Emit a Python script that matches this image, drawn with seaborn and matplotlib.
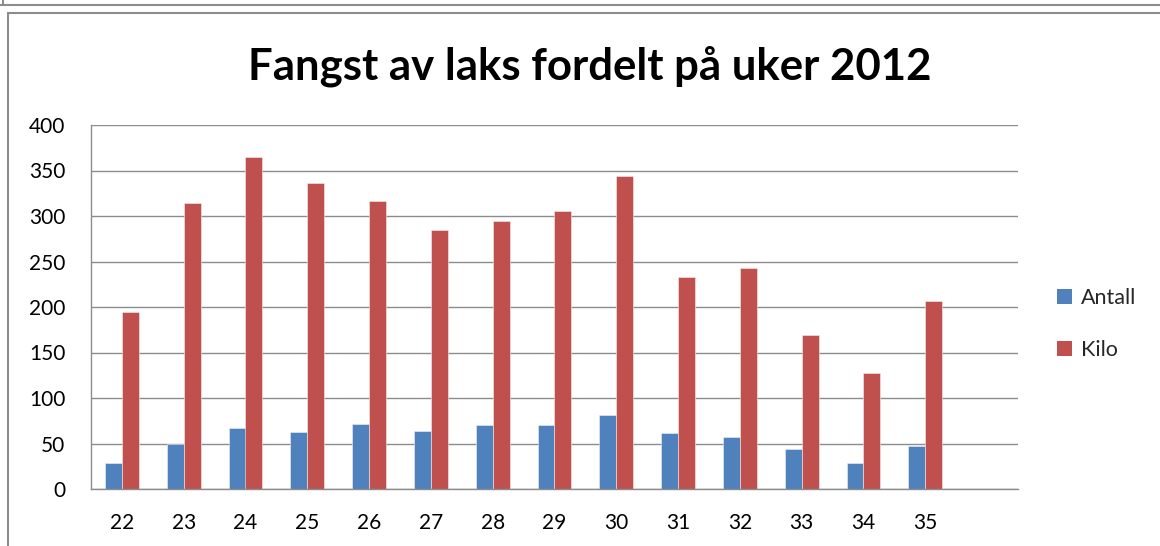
import numpy as np
import pandas as pd
import matplotlib
matplotlib.use("Agg")
import matplotlib.pyplot as plt
from matplotlib.patches import Rectangle
from matplotlib.lines import Line2D
import seaborn as sns

weeks = ["22", "23", "24", "25", "26", "27", "28", "29", "30", "31", "32", "33", "34", "35"]
antall = [29, 50, 67, 63, 71, 64, 70, 70, 81, 61, 57, 44, 29, 47]
kilo = [195, 314, 365, 336, 316, 285, 295, 306, 344, 233, 243, 169, 128, 207]
series_names = ["Antall", "Kilo"]
colors = ["#4F81BD", "#C0504D"]
title = "Fangst av laks fordelt på uker 2012"

df = pd.DataFrame({
    "Uke": weeks * 2,
    "Serie": [series_names[0]] * len(weeks) + [series_names[1]] * len(weeks),
    "Verdi": antall + kilo,
})

sns.set_theme(style="white")
plt.rcParams['font.family'] = ['Lato', 'DejaVu Sans']

W, H = 1160, 546
fig = plt.figure(figsize=(W / 100, H / 100), dpi=100)
ax = fig.add_axes([91 / W, 1 - 489 / H, (1018 - 91) / W, (489 - 125) / H])

sns.barplot(data=df, x="Uke", y="Verdi", hue="Serie", order=weeks,
            hue_order=series_names, palette=colors, width=0.55,
            ax=ax, legend=False, saturation=1, edgecolor="#f0f0f0", linewidth=0.4)

ax.set_xlim(-0.5, len(weeks) + 0.5)
ax.set_ylim(0, 400)
ax.set_yticks(np.arange(0, 401, 50))
ax.yaxis.grid(True, color="#8c8c8c", linewidth=1)
ax.set_axisbelow(True)
ax.set_xlabel("")
ax.set_ylabel("")
for s in ["top", "right"]:
    ax.spines[s].set_visible(False)
for s in ["left", "bottom"]:
    ax.spines[s].set_color("#8c8c8c")
    ax.spines[s].set_linewidth(1)
ax.tick_params(axis="both", length=0, labelsize=15, colors="#000000")
ax.tick_params(axis="x", pad=17)
ax.tick_params(axis="y", pad=18.5)

fig.text(590 / W, 1 - 66 / H, title, ha="center", va="center",
         fontsize=31.5, fontweight="bold", color="#000000")

handles = [Rectangle((0, 0), 1, 1, facecolor=c, edgecolor="none") for c in colors]
fig.legend(handles, series_names, loc="center left",
           bbox_to_anchor=(1038 / W, 1 - 324 / H), frameon=False,
           fontsize=15.5, handlelength=0.7, handleheight=0.7, handletextpad=0.4,
           labelspacing=1.45)

# chart frames
fig.add_artist(Line2D([0, 1], [1 - 4.5 / H, 1 - 4.5 / H], color="#8c8c8c", lw=1.5))
fig.add_artist(Line2D([3 / W, 3 / W], [1 - 4.5 / H, 1], color="#8c8c8c", lw=1.5))
fig.add_artist(Line2D([8 / W, 1], [1 - 12.5 / H, 1 - 12.5 / H], color="#8c8c8c", lw=1.5))
fig.add_artist(Line2D([8 / W, 8 / W], [0, 1 - 12.5 / H], color="#8c8c8c", lw=1.5))

fig.savefig("out.png", dpi=100)
